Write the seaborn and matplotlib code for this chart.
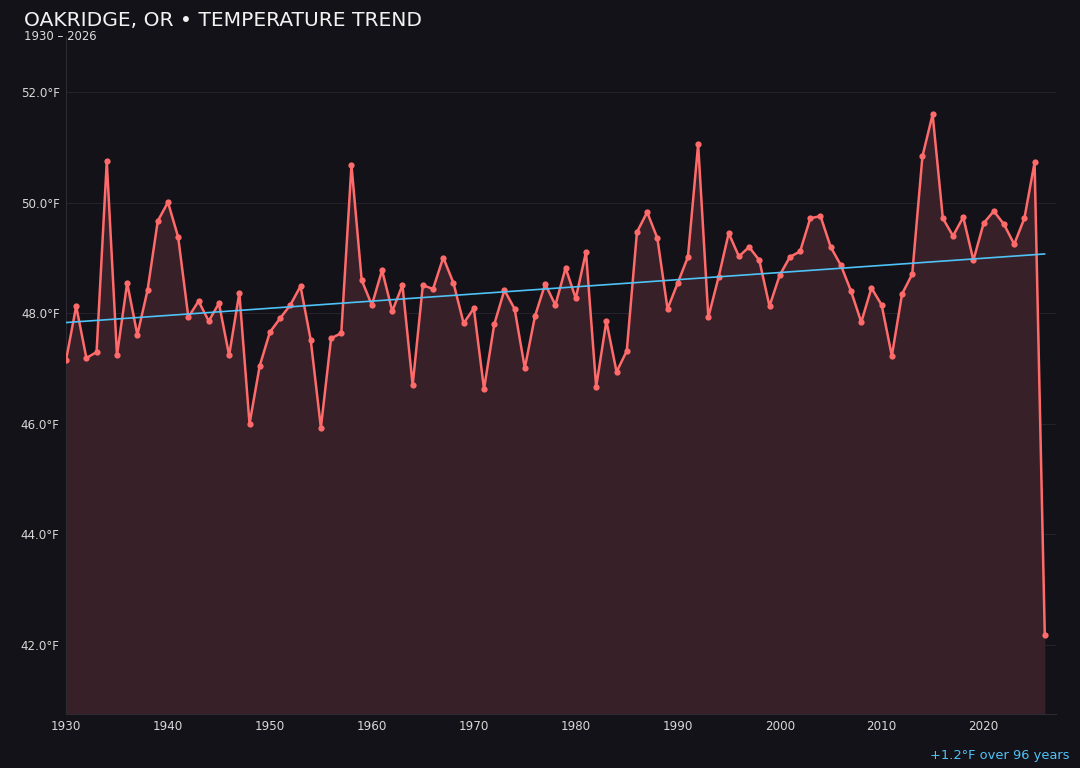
import numpy as np
import pandas as pd
import matplotlib
matplotlib.use("Agg")
import matplotlib.pyplot as plt
import seaborn as sns

years = list(range(1930, 2027))
temps = [
    47.15, 48.13, 47.19, 47.30, 50.75, 47.24, 48.55, 47.61, 48.42, 49.67,
    50.01, 49.38, 47.93, 48.22, 47.86, 48.18, 47.24, 48.37, 46.00, 47.05,
    47.66, 47.91, 48.15, 48.49, 47.52, 45.93, 47.55, 47.64, 50.68, 48.60,
    48.15, 48.78, 48.04, 48.51, 46.70, 48.51, 48.44, 49.01, 48.55, 47.82,
    48.09, 46.63, 47.80, 48.42, 48.08, 47.01, 47.95, 48.53, 48.15, 48.82,
    48.27, 49.11, 46.67, 47.86, 46.94, 47.32, 49.47, 49.83, 49.36, 48.08,
    48.55, 49.02, 51.06, 47.93, 48.65, 49.45, 49.03, 49.20, 48.96, 48.13,
    48.69, 49.02, 49.12, 49.72, 49.76, 49.20, 48.87, 48.40, 47.84, 48.46,
    48.15, 47.23, 48.35, 48.71, 50.84, 51.60, 49.72, 49.40, 49.74, 48.96,
    49.63, 49.85, 49.61, 49.25, 49.72, 50.73, 42.18,
]
y_ticks = [42.0, 44.0, 46.0, 48.0, 50.0, 52.0]
x_ticks = [1930, 1940, 1950, 1960, 1970, 1980, 1990, 2000, 2010, 2020]
title = "OAKRIDGE, OR • TEMPERATURE TREND"
subtitle = "1930 – 2026"
note = "+1.2°F over 96 years"

BG = "#131218"
LINE = "#ff6b6b"
FILL = "#372027"
TREND = "#4fc3f7"
TXT = "#e6e6e6"
GRID = "#24222a"

sns.set_theme(style="dark", rc={
    "figure.facecolor": BG, "axes.facecolor": BG,
    "axes.edgecolor": "#2c2b33", "text.color": TXT,
    "xtick.color": "#d8d8d8", "ytick.color": "#d8d8d8",
    "axes.labelcolor": TXT,
})
plt.rcParams["font.family"] = ["DejaVu Sans"]

df = pd.DataFrame({"year": years, "temp": temps})

fig = plt.figure(figsize=(10.8, 7.68), dpi=100)
ax = fig.add_axes([66 / 1080, 1 - 714 / 768, (1056 - 66) / 1080, (714 - 37) / 768])

ymin, ymax = 40.75, 53.0
ax.fill_between(df["year"], df["temp"], ymin, color=FILL, lw=0, zorder=1)
sns.lineplot(data=df, x="year", y="temp", ax=ax, color=LINE, lw=1.8,
             marker="o", markersize=4.5, markeredgewidth=0, zorder=3)

coef = np.polyfit(df["year"], df["temp"], 1)
tx = np.array([years[0], years[-1]])
ax.plot(tx, np.polyval(coef, tx), color=TREND, lw=1.2, zorder=4)

ax.set_xlim(1930, 2027.1)
ax.set_ylim(ymin, ymax)
ax.set_xticks(x_ticks)
ax.set_yticks(y_ticks)
ax.set_yticklabels([f"{v:.1f}°F" for v in y_ticks])
ax.tick_params(axis="both", labelsize=8.6, length=2, color="#2c2b33", pad=2.5)
ax.set_xlabel("")
ax.set_ylabel("")
ax.grid(axis="y", color=GRID, lw=0.8)
ax.grid(axis="x", visible=False)
for s in ["top", "right"]:
    ax.spines[s].set_visible(False)
for s in ["left", "bottom"]:
    ax.spines[s].set_color("#2c2b33")
    ax.spines[s].set_linewidth(0.8)

fig.text(24 / 1080, 1 - 26.5 / 768, title, fontsize=14.6, color="#f2f2f2", va="baseline", ha="left")
fig.text(24 / 1080, 1 - 39.5 / 768, subtitle, fontsize=8.4, color="#dddddd", va="baseline", ha="left")
fig.text(1070 / 1080, 1 - 756 / 768, note, fontsize=9.4, color=TREND, va="center", ha="right")

fig.savefig("out.png", dpi=100, facecolor=BG)
